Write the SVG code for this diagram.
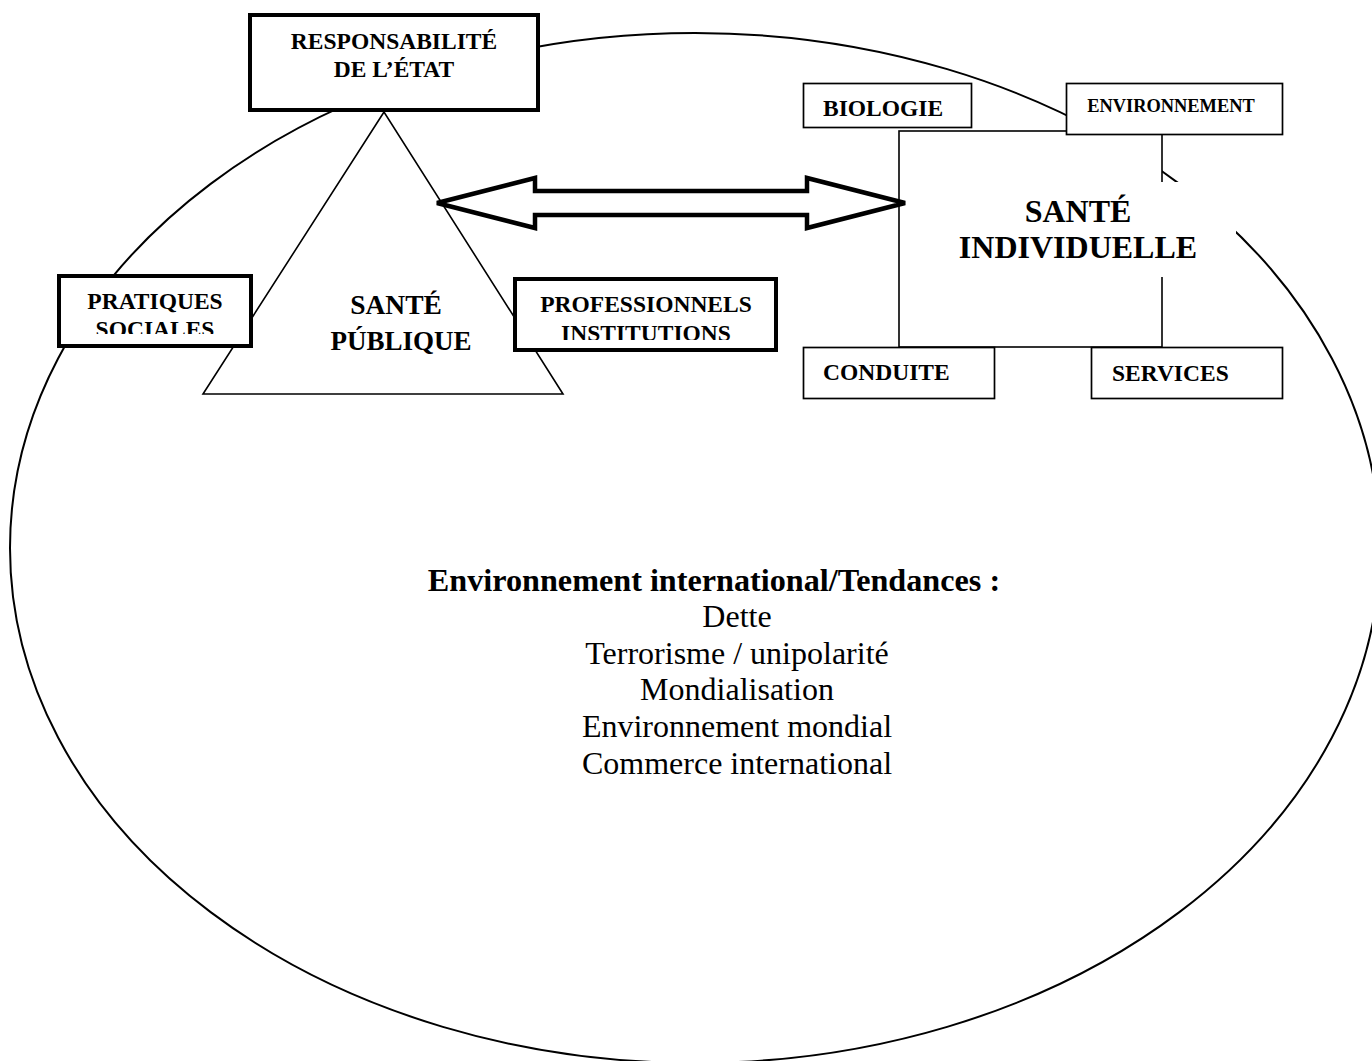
<svg xmlns="http://www.w3.org/2000/svg" width="1372" height="1061" viewBox="0 0 1372 1061">
<style>
text{font-family:"Liberation Serif","Times New Roman",serif;fill:#000}
.b{font-weight:bold}
.thick{fill:#fff;stroke:#000;stroke-width:4}
.thin{fill:#fff;stroke:#000;stroke-width:1.7}
.ln{fill:none;stroke:#000;stroke-width:1.6}
</style>
<defs>
<clipPath id="cpP"><rect x="61" y="278" width="188" height="56"/></clipPath>
<clipPath id="cpI"><rect x="517" y="281" width="257" height="59"/></clipPath>
</defs>
<g id="world">
<ellipse cx="695" cy="548" rx="685" ry="515" fill="none" stroke="#000" stroke-width="2"/>
</g>
<g id="connectors">
<polygon id="triangle" points="384,112 203,394 563,394" class="ln"/>
</g>
<g id="sante-individuelle">
<rect x="899" y="131" width="263" height="216" fill="#fff" stroke="#000" stroke-width="1.6"/>
<rect x="915" y="182" width="321" height="95" fill="#fff"/>
<text class="b" x="1078" y="222" font-size="32" text-anchor="middle">SANTÉ</text>
<text class="b" x="1078" y="258" font-size="32" text-anchor="middle">INDIVIDUELLE</text>
</g>
<g id="arrow">
<polygon points="437,203 535,178 535,191 807,191 807,178 905,203 807,228 807,215 535,215 535,228" fill="none" stroke="#000" stroke-width="4.5" stroke-linejoin="miter"/>
</g>
<g id="responsabilite">
<rect x="250" y="15" width="288" height="95" class="thick"/>
<text class="b" x="394" y="49" font-size="23.5" text-anchor="middle">RESPONSABILITÉ</text>
<text class="b" x="394" y="77" font-size="23.5" text-anchor="middle">DE L’ÉTAT</text>
</g>
<g id="pratiques">
<rect x="59" y="276" width="192" height="70" class="thick"/>
<g clip-path="url(#cpP)">
<text class="b" x="155" y="309" font-size="23.5" text-anchor="middle">PRATIQUES</text>
<text class="b" x="155" y="337" font-size="23.5" text-anchor="middle">SOCIALES</text>
</g>
</g>
<g id="professionnels">
<rect x="515" y="279" width="261" height="71" class="thick"/>
<g clip-path="url(#cpI)">
<text class="b" x="646" y="312" font-size="23.5" text-anchor="middle">PROFESSIONNELS</text>
<text class="b" x="646" y="341" font-size="23.5" text-anchor="middle">INSTITUTIONS</text>
</g>
</g>
<g id="sante-publique">
<text class="b" x="396" y="314" font-size="27.5" text-anchor="middle">SANTÉ</text>
<text class="b" x="401" y="350" font-size="27" text-anchor="middle">PÚBLIQUE</text>
</g>
<g id="biologie">
<rect x="803.5" y="83.5" width="168" height="44" class="thin"/>
<text class="b" x="823" y="116" font-size="23.5">BIOLOGIE</text>
</g>
<g id="environnement">
<rect x="1066.5" y="83.5" width="216" height="51" class="thin"/>
<text class="b" x="1171" y="112" font-size="18.4" text-anchor="middle">ENVIRONNEMENT</text>
</g>
<g id="conduite">
<rect x="803.5" y="347.5" width="191" height="51" class="thin"/>
<text class="b" x="823" y="380" font-size="23.5">CONDUITE</text>
</g>
<g id="services">
<rect x="1091.5" y="347.5" width="191" height="51" class="thin"/>
<text class="b" x="1112" y="381" font-size="23.5">SERVICES</text>
</g>
<g id="tendances">
<text class="b" x="714" y="591" font-size="32.2" text-anchor="middle">Environnement international/Tendances :</text>
<text x="737" y="627" font-size="32" text-anchor="middle">Dette</text>
<text x="737" y="664" font-size="32" text-anchor="middle">Terrorisme / unipolarité</text>
<text x="737" y="700" font-size="32" text-anchor="middle">Mondialisation</text>
<text x="737" y="737" font-size="32" text-anchor="middle">Environnement mondial</text>
<text x="737" y="774" font-size="32" text-anchor="middle">Commerce international</text>
</g>
</svg>
